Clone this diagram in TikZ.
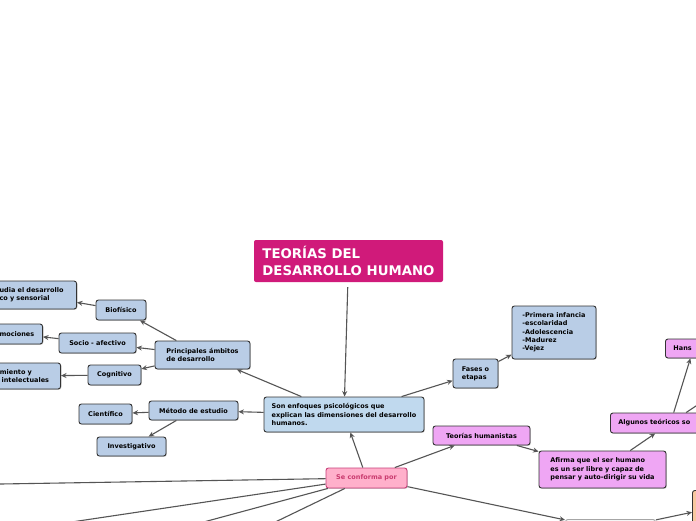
\documentclass[tikz,border=0pt]{standalone}
\usepackage{fontspec}
\setmainfont{DejaVu Sans}
\usetikzlibrary{arrows.meta,shadows}
\definecolor{mapblue}{HTML}{B9CDE6}
\definecolor{mainblue}{HTML}{C0D9EE}
\definecolor{boxline}{HTML}{333333}
\definecolor{titlepink}{HTML}{D01A7A}
\definecolor{conffill}{HTML}{FFB0CB}
\definecolor{confline}{HTML}{C8407A}
\definecolor{conftext}{HTML}{C93A6E}
\definecolor{humviolet}{HTML}{EFA6F4}
\definecolor{peach}{HTML}{F8C8A0}
\definecolor{linkgray}{HTML}{555555}
\newcommand{\mapfont}{\fontsize{6.5}{8.3}\selectfont\bfseries}
\tikzset{mapbox/.style={draw=boxline,line width=0.9pt,rounded corners=2.5pt,align=left,font=\mapfont,inner sep=2pt,
  drop shadow={shadow xshift=0.8pt,shadow yshift=-0.8pt,fill=black!40}},
 bluebox/.style={mapbox,fill=mapblue},
 violetbox/.style={mapbox,fill=humviolet},
 cutbox/.style={inner xsep=8pt,inner ysep=2pt},
 link/.style={draw=linkgray,line width=1.1pt,-{Stealth[length=5.5pt,width=5pt]}}}

\begin{document}
\begin{tikzpicture}[x=1pt,y=-1pt]
\useasboundingbox (0,0) rectangle (696,520);
\fill[white] (0,0) rectangle (696,520);
\clip (0,0) rectangle (696,520);
\node[draw=none,fill=titlepink,rounded corners=2pt,text=white,align=left,font=\fontsize{13.3}{17}\selectfont\bfseries,
 minimum width=189,minimum height=42,inner sep=2pt] (title) at (348.5,261) {TEORÍAS DEL\\DESARROLLO HUMANO};
\node[mapbox,fill=mainblue,minimum width=160,minimum height=35] (enfoques) at (344,414.5)
 {Son enfoques psicológicos que\\explican las dimensiones del desarrollo\\humanos.};
\node[bluebox,minimum width=45,minimum height=29] (fases) at (475.5,373.5) {Fases o\\etapas};
\node[bluebox,minimum width=84,minimum height=53] (etapas) at (554,332.5)
 {-Primera infancia\\-escolaridad\\-Adolescencia\\-Madurez\\-Vejez};
\node[bluebox,minimum width=95,minimum height=28] (ambitos) at (202.5,355) {Principales ámbitos\\de desarrollo};
\node[bluebox,minimum width=50,minimum height=20] (biofisico) at (121,310) {Biofísico};
\node[bluebox,minimum width=77,minimum height=20] (socio) at (97.5,343) {Socio - afectivo};
\node[bluebox,minimum width=53,minimum height=20] (cognitivo) at (114.5,375) {Cognitivo};
\node[bluebox,cutbox,text width=69,minimum height=28,anchor=east] (sensorial) at (77,295)
 {udia el desarrollo\\co y sensorial};
\node[bluebox,cutbox,text width=35,minimum height=20,anchor=east] (emociones) at (43,334) {mociones};
\node[bluebox,cutbox,text width=57,minimum height=26,anchor=east] (intelecto) at (61,376)
 {amiento y\\\mbox{s intelectuales}};
\node[bluebox,minimum width=89,minimum height=19] (metodo) at (193.5,410.5) {Método de estudio};
\node[bluebox,minimum width=53,minimum height=20] (cientifico) at (105.5,414) {Científico};
\node[bluebox,minimum width=69,minimum height=19] (investigativo) at (131.5,446.5) {Investigativo};
\node[mapbox,fill=conffill,draw=confline,text=conftext,minimum width=81,minimum height=20] (conforma) at (366.5,478)
 {Se conforma por};
\node[violetbox,minimum width=97,minimum height=19] (humanistas) at (481.5,435.5) {Teorías humanistas};
\node[violetbox,minimum width=127,minimum height=37] (afirma) at (602.5,469.5)
 {Afirma que el ser humano\\es un ser libre y capaz de\\pensar y auto-dirigir su vida};
\node[violetbox,cutbox,text width=104,minimum height=20,anchor=west] (teoricos) at (610,423) {Algunos teóricos so};
\node[violetbox,cutbox,text width=40,minimum height=19,anchor=west] (hans) at (665,348.5) {Hans};
\node[mapbox,fill=peach,minimum width=40,minimum height=35,anchor=north west] (peachbox) at (692,490) {};
\node[mapbox,fill=gray!8,draw=gray!70,minimum width=90,minimum height=20,anchor=north west] (lower) at (565,519) {};
\coordinate (offleft) at (-30,484.5);
\coordinate (offdownA) at (-49,540);
\coordinate (offdownB) at (137,540);
\coordinate (offdownC) at (238,540);
\coordinate (offright) at (720,390);
\draw[link,shorten <=5pt] (title) -- (enfoques);
\draw[link] (enfoques) -- (fases);
\draw[link] (fases) -- (etapas);
\draw[link] (enfoques) -- (ambitos);
\draw[link] (enfoques) -- (metodo);
\draw[link] (ambitos) -- (biofisico);
\draw[link] (ambitos) -- (socio);
\draw[link] (ambitos) -- (cognitivo);
\draw[link] (biofisico) -- (sensorial);
\draw[link] (socio) -- (emociones);
\draw[link] (cognitivo) -- (intelecto);
\draw[link] (metodo) -- (cientifico);
\draw[link] (metodo) -- (investigativo);
\draw[link] (conforma) -- (enfoques);
\draw[link] (conforma) -- (humanistas);
\draw[link] (humanistas) -- (afirma);
\draw[link] (afirma) -- (teoricos);
\draw[link] (teoricos) -- (hans);
\draw[link] (teoricos) -- (offright);
\draw[link] (conforma) -- (offleft);
\draw[link] (conforma) -- (offdownA);
\draw[link] (conforma) -- (offdownB);
\draw[link] (conforma) -- (offdownC);
\draw[link] (conforma) -- (lower);
\draw[link] (lower) -- (peachbox);
\end{tikzpicture}
\end{document}
